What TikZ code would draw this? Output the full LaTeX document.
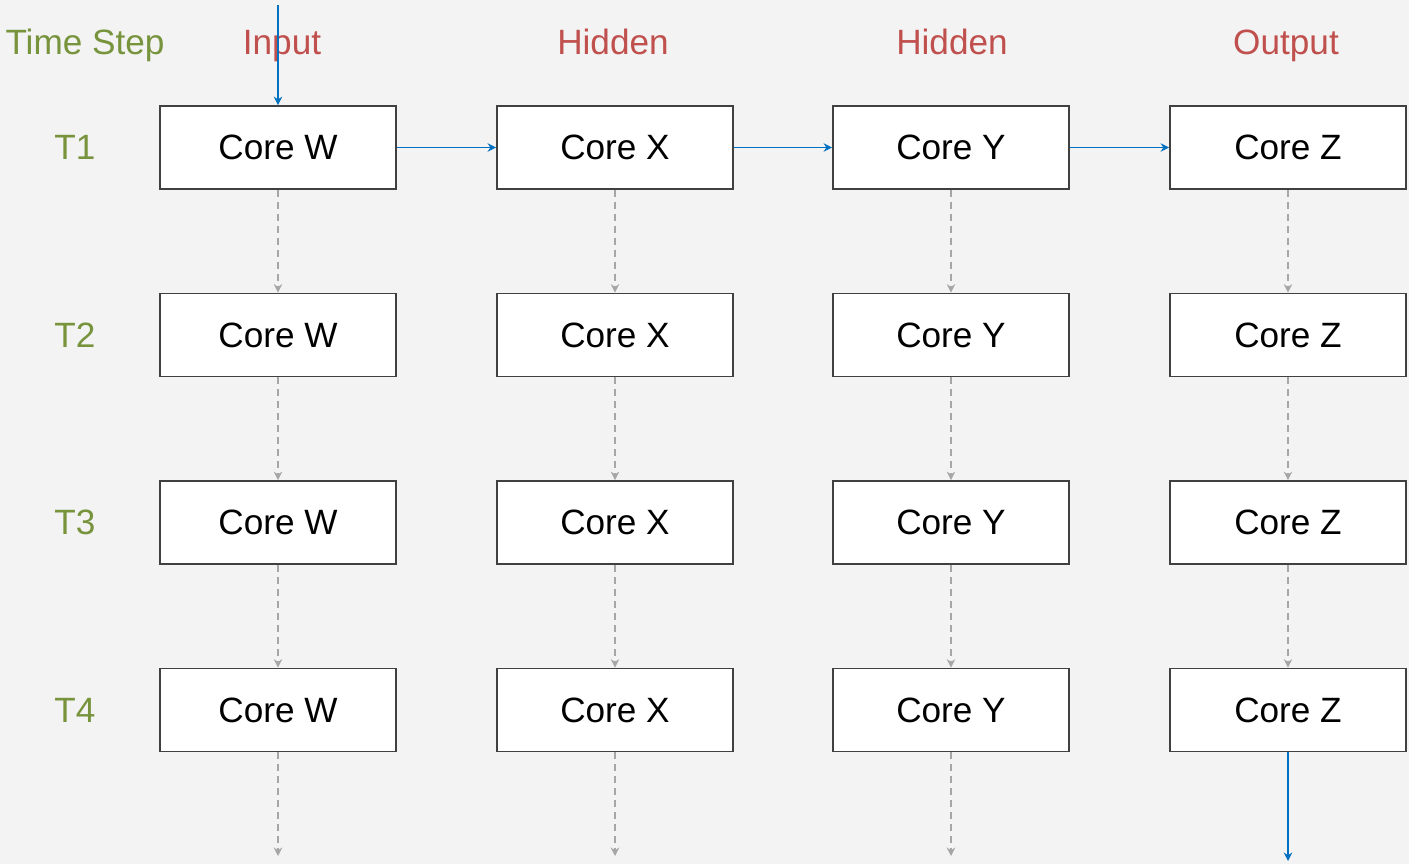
\documentclass[tikz,border=0pt]{standalone}
\usepackage{fontspec}
\setmainfont{Liberation Sans}
\usepackage{xcolor}
\usetikzlibrary{arrows.meta}
\definecolor{bggray}{HTML}{F3F3F3}
\definecolor{stepgreen}{HTML}{77933C}
\definecolor{layerred}{HTML}{C0504D}
\definecolor{flowblue}{HTML}{0070C0}
\definecolor{timegray}{HTML}{A6A6A6}
\tikzset{
  core/.style={draw=black!75, fill=white, line width=0.5pt,
    minimum width=2.36cm, minimum height=0.83cm, inner sep=0pt,
    font=\fontsize{10}{12}\selectfont},
  lbl/.style={inner sep=0pt, font=\fontsize{10}{12}\selectfont},
  head/.style={lbl, anchor=base},
  flow/.style={->, flowblue, line width=0.5pt},
  carry/.style={->, timegray, line width=0.5pt, dash pattern=on 2pt off 1.4pt},
}

\begin{document}
\begin{tikzpicture}[x=0.01cm, y=-0.01cm, >={Stealth[length=2.4pt,width=2.4pt]}]
  \fill[bggray] (0,0) rectangle (1409,864);
  \useasboundingbox (0,0) rectangle (1409,864);
  % headers
  \node[head, stepgreen] (hstep) at (85,55) {Time Step};
  \node[head, layerred] (hin) at (282,55) {Input};
  \node[head, layerred] (hh1) at (613,55) {Hidden};
  \node[head, layerred] (hh2) at (952,55) {Hidden};
  \node[head, layerred] (hout) at (1286,55) {Output};
  % grid of cores
  \foreach \r/\y in {1/147.5, 2/335, 3/522.5, 4/710} {
    \node[lbl, stepgreen] (t\r) at (75,\y) {T\r};
    \foreach \n/\x in {W/278, X/615, Y/951, Z/1288}
      \node[core] (\n\r) at (\x,\y) {Core \n};
  }
  % time links
  \foreach \n in {W,X,Y,Z}
    \foreach \r/\s in {1/2, 2/3, 3/4}
      \draw[carry] (\n\r) -- (\n\s);
  \coordinate (endW) at (278,856);
  \coordinate (endX) at (615,856);
  \coordinate (endY) at (951,856);
  \foreach \n in {W,X,Y}
    \draw[carry] (\n4) -- (end\n);
  % data flow
  \coordinate (in) at (278,5);
  \coordinate (out) at (1288,861);
  \draw[flow] (in) -- (W1);
  \draw[flow] (W1) -- (X1);
  \draw[flow] (X1) -- (Y1);
  \draw[flow] (Y1) -- (Z1);
  \draw[flow] (Z4) -- (out);
\end{tikzpicture}
\end{document}
